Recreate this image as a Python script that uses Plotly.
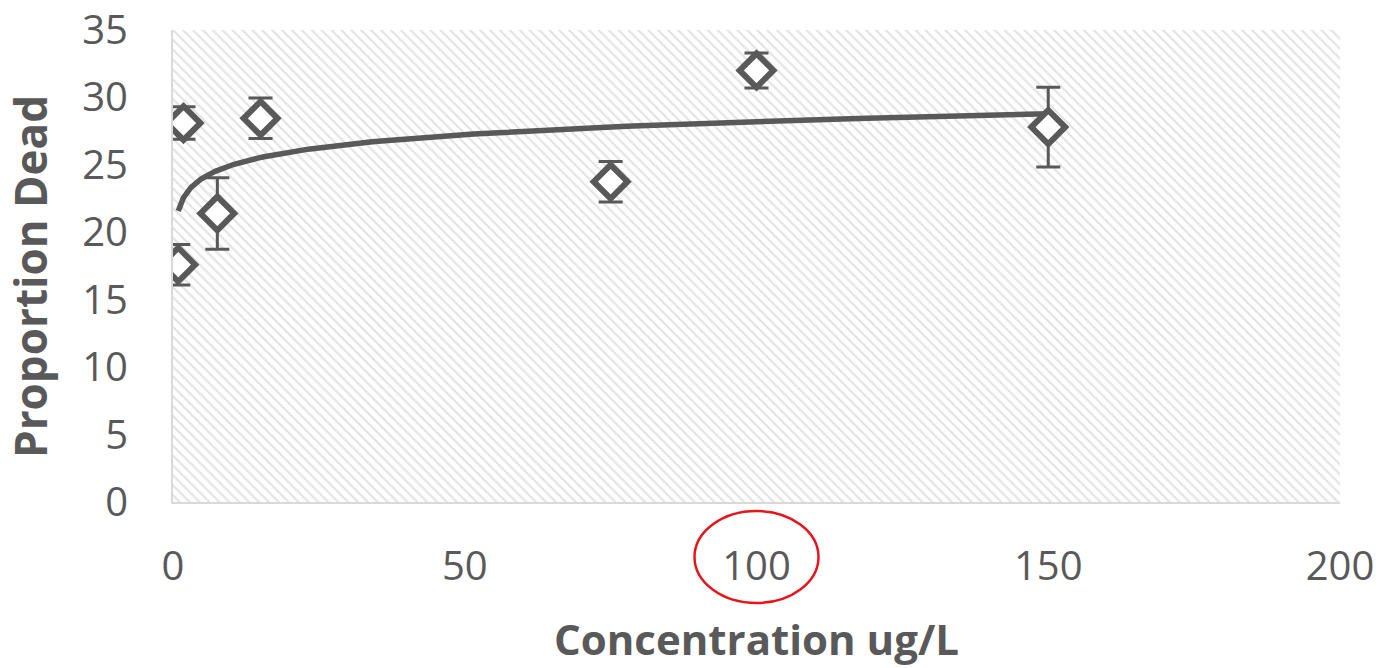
import numpy as np
import plotly.graph_objects as go

# ---- data ----
concentration = [0.9, 1.8, 7.6, 15, 75, 100, 150]
proportion_dead = [17.6, 28.1, 21.4, 28.45, 23.75, 32.0, 27.8]
error = [1.5, 1.2, 2.65, 1.5, 1.5, 1.3, 2.95]

x_ticks = [0, 50, 100, 150, 200]
y_ticks = [0, 5, 10, 15, 20, 25, 30, 35]
X_RANGE = [0, 200]
Y_RANGE = [0, 35]
highlight_tick = 100

GRAY = "#595959"

# logarithmic trendline (least squares fit on ln x, as Excel does)
a, b = np.polyfit(np.log(concentration), proportion_dead, 1)
tx = np.geomspace(min(concentration), max(concentration), 200)
ty = a * np.log(tx) + b

fig = go.Figure()

# hatched plot-area background
fig.add_trace(go.Scatter(
    x=[X_RANGE[0], X_RANGE[1], X_RANGE[1], X_RANGE[0], X_RANGE[0]],
    y=[Y_RANGE[0], Y_RANGE[0], Y_RANGE[1], Y_RANGE[1], Y_RANGE[0]],
    mode="none", fill="toself", fillcolor="white",
    fillpattern=dict(shape="\\", fgcolor="#c6c6c6", bgcolor="white",
                     size=7, solidity=0.3),
    hoverinfo="skip", showlegend=False,
))

# trendline
fig.add_trace(go.Scatter(
    x=tx, y=ty, mode="lines",
    line=dict(color=GRAY, width=5.5),
    hoverinfo="skip", showlegend=False,
))

# data points with error bars
fig.add_trace(go.Scatter(
    x=concentration, y=proportion_dead, mode="markers",
    marker=dict(symbol="diamond", size=26, color="white",
                line=dict(color=GRAY, width=6)),
    error_y=dict(type="data", array=error, visible=True,
                 color=GRAY, thickness=3, width=12),
    showlegend=False,
))

fig.update_layout(
    width=1387, height=668,
    margin=dict(l=173, r=47, t=30, b=166),
    paper_bgcolor="white", plot_bgcolor="white",
    font=dict(family="Open Sans", color=GRAY),
    xaxis=dict(
        range=X_RANGE, tickvals=x_ticks, showgrid=False, zeroline=False,
        showline=True, linecolor="#d9d9d9", linewidth=2, automargin=False,
        tickfont=dict(size=40, color=GRAY, family="Open Sans"),
        ticklabelstandoff=28,
        title=dict(text="<b>Concentration ug/L</b>",
                   font=dict(size=42, color=GRAY, family="Open Sans"),
                   standoff=35),
    ),
    yaxis=dict(
        range=Y_RANGE, tickvals=y_ticks, showgrid=False, zeroline=False,
        showline=True, linecolor="#d9d9d9", linewidth=2, automargin=False,
        tickfont=dict(size=40, color=GRAY, family="Open Sans"),
        ticklabelstandoff=35,
    ),
    annotations=[dict(
        text="<b>Proportion Dead</b>", textangle=-90,
        xref="paper", yref="paper", x=0, y=0.5,
        xanchor="center", yanchor="middle", xshift=-143, yshift=-11,
        showarrow=False, font=dict(size=44, color=GRAY, family="Open Sans"),
    )],
)

# red ellipse highlighting the 100 tick label
fig.add_shape(
    type="circle", xref="paper", yref="paper",
    xsizemode="pixel", ysizemode="pixel",
    xanchor=(highlight_tick - X_RANGE[0]) / (X_RANGE[1] - X_RANGE[0]), yanchor=0,
    x0=-62, x1=62, y0=-101, y1=-9,
    line=dict(color="#e8141b", width=2.5), fillcolor="rgba(0,0,0,0)",
)

fig.write_html("out.html", config={"displayModeBar": False},
               post_script="document.body.style.margin='0';")
